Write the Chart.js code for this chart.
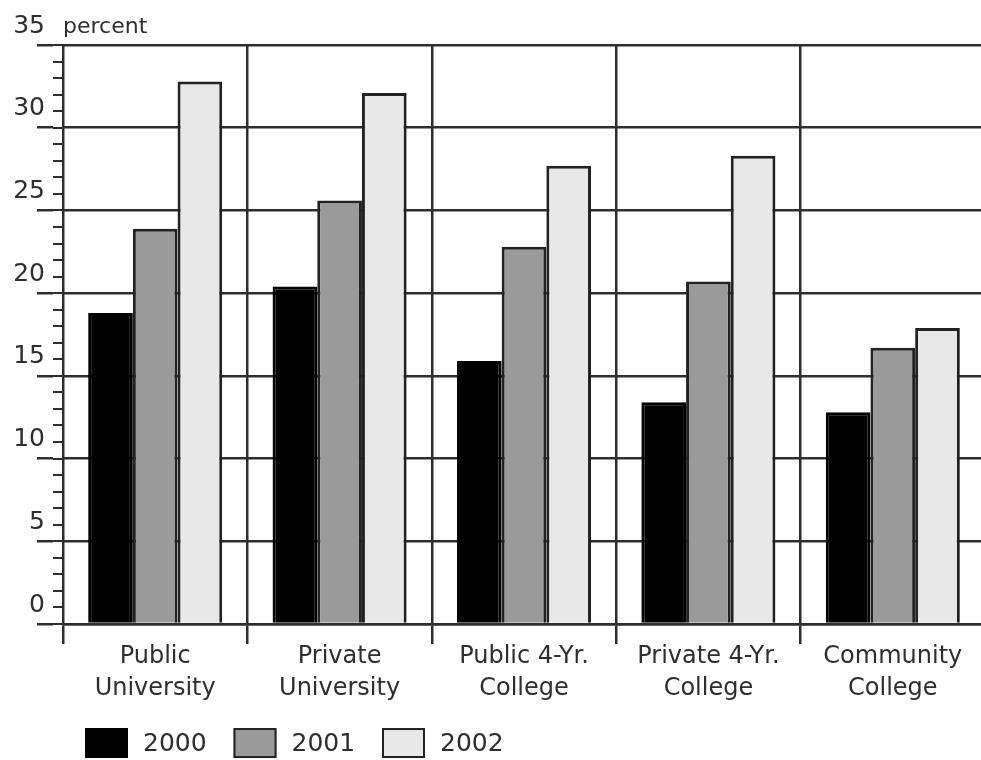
<!DOCTYPE html>
<html>
<head>
<meta charset="utf-8">
<title>Percent by institution type, 2000–2002</title>
<script src="https://cdn.jsdelivr.net/npm/chart.js@4.4.1/dist/chart.umd.min.js"></script>
<style>
  html, body { margin: 0; padding: 0; overflow: hidden; background: #ffffff; }
  #wrap { width: 990px; height: 760px; }
</style>
</head>
<body>
<div id="wrap"><canvas id="chart" width="990" height="760"></canvas></div>
<script>
// Institution types (two-line axis labels)
const categories = [
  ['Public', 'University'],
  ['Private', 'University'],
  ['Public 4-Yr.', 'College'],
  ['Private 4-Yr.', 'College'],
  ['Community', 'College']
];

// Series names and values (percent)
const seriesNames = ['2000', '2001', '2002'];
const values2000 = [18.8, 20.4, 15.9, 13.4, 12.8];
const values2001 = [23.9, 25.6, 22.8, 20.7, 16.7];
const values2002 = [32.8, 32.1, 27.7, 28.3, 17.9];

// Value axis
const yMin = 0;
const yMax = 35;
const yMajorStep = 5;
const yMinorStep = 1;
const unitLabel = 'percent';

const FONT = 'DejaVu Sans, Verdana, sans-serif';
const INK = '#2e2e2e';

// Square-swatch legend under the category labels
const boxLegend = {
  id: 'boxLegend',
  afterDraw(chart, args, opts) {
    const { ctx, chartArea } = chart;
    ctx.save();
    ctx.font = opts.fontSize + 'px ' + FONT;
    ctx.textBaseline = 'middle';
    ctx.textAlign = 'left';
    chart.data.datasets.forEach((ds, i) => {
      const x = chartArea.left + opts.offsetX + i * opts.pitch;
      const y = chartArea.bottom + opts.offsetY;
      ctx.fillStyle = ds.backgroundColor;
      ctx.fillRect(x, y, opts.boxW, opts.boxH);
      ctx.lineWidth = 2;
      ctx.strokeStyle = ds.borderColor;
      ctx.strokeRect(x + 1, y + 1, opts.boxW - 2, opts.boxH - 2);
      ctx.fillStyle = opts.color;
      ctx.fillText(ds.label, x + opts.boxW + opts.gap, y + opts.boxH / 2 + 1);
    });
    ctx.restore();
  }
};

new Chart(document.getElementById('chart'), {
  type: 'bar',
  data: {
    labels: categories,
    datasets: [
      { label: seriesNames[0], data: values2000, backgroundColor: '#000000', borderColor: '#000000' },
      { label: seriesNames[1], data: values2001, backgroundColor: '#9a9a9a', borderColor: '#222222' },
      { label: seriesNames[2], data: values2002, backgroundColor: '#e8e8e8', borderColor: '#222222' }
    ]
  },
  options: {
    responsive: false,
    animation: false,
    layout: { padding: { left: 0, right: 5, top: 0, bottom: 58 } },
    datasets: {
      bar: {
        borderWidth: 3,
        categoryPercentage: 0.727,
        barPercentage: 1.0
      }
    },
    plugins: {
      legend: { display: false },
      tooltip: { enabled: false },
      title: {
        display: true,
        text: unitLabel,
        align: 'start',
        fullSize: false,
        color: INK,
        font: { family: FONT, size: 22, weight: 'normal' },
        padding: { top: 14, bottom: 4.6 }
      },
      boxLegend: {
        offsetX: 22, offsetY: 104, pitch: 148.5,
        boxW: 43, boxH: 30, gap: 15,
        fontSize: 25, color: INK
      }
    },
    scales: {
      x: {
        offset: true,
        grid: { offset: true, color: INK, lineWidth: 2.5, tickLength: 20 },
        border: { color: INK, width: 2.5 },
        ticks: {
          color: INK,
          font: { family: FONT, size: 24, lineHeight: 1.333 },
          padding: -3,
          maxRotation: 0,
          autoSkip: false
        }
      },
      y: {
        position: 'left',
        weight: 1,
        min: yMin,
        max: yMax,
        grid: { color: INK, lineWidth: 2.5, tickLength: 16 },
        border: { display: false },
        ticks: {
          stepSize: yMajorStep,
          color: INK,
          font: { family: FONT, size: 25 },
          padding: -8,
          labelOffset: -19
        },
        afterFit(scale) { scale.width = 53; }
      },
      yMinor: {
        position: 'left',
        weight: 0,
        min: yMin,
        max: yMax,
        grid: { drawOnChartArea: false, color: INK, lineWidth: 2, tickLength: 10 },
        border: { display: false },
        ticks: { stepSize: yMinorStep, display: false }
      }
    }
  },
  plugins: [boxLegend]
});
</script>
</body>
</html>
